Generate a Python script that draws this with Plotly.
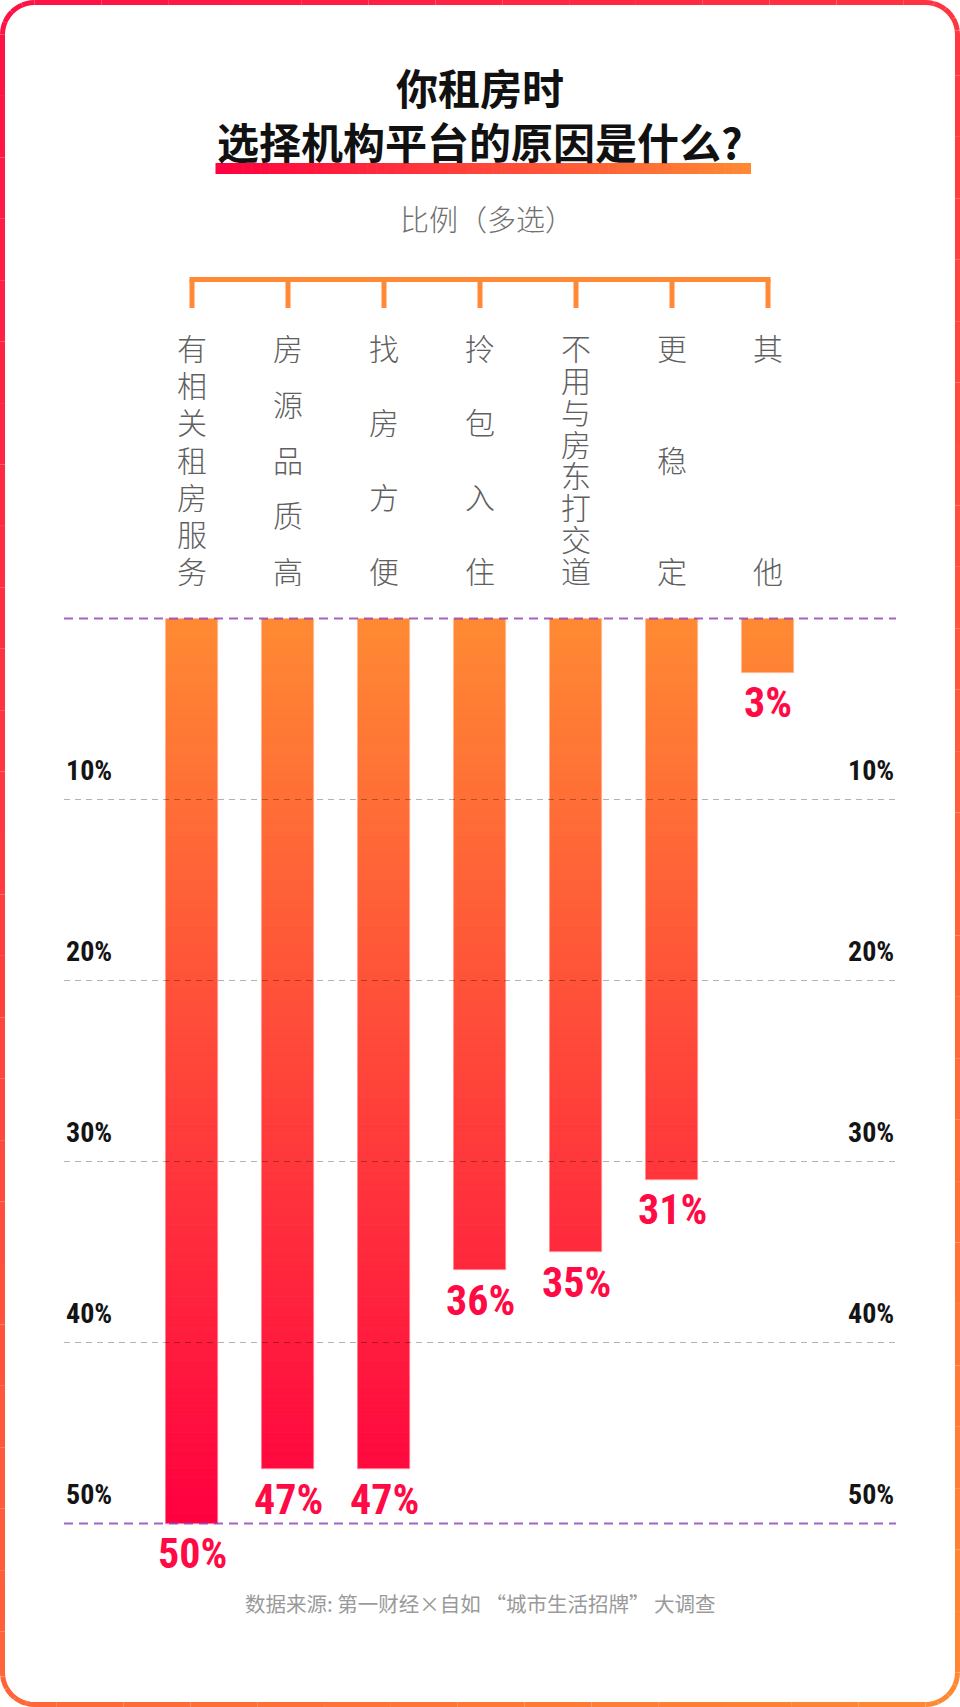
import math
import plotly.graph_objects as go

# ---------------- data ----------------
categories = ["有相关租房服务", "房源品质高", "找房方便", "拎包入住", "不用与房东打交道", "更稳定", "其他"]
values = [50, 47, 47, 36, 35, 31, 3]
value_labels = ["50%", "47%", "47%", "36%", "35%", "31%", "3%"]
tick_values = [10, 20, 30, 40]
tick_labels = ["10%", "20%", "30%", "40%"]
frame_values = [0, 50]
frame_labels = ["", "50%"]
title_line1 = "你租房时"
title_line2 = "选择机构平台的原因是什么?"
subtitle = "比例（多选）"
source = "数据来源: 第一财经×自如 “城市生活招牌” 大调查"

# ---------------- geometry / style ----------------
W, H = 960, 1707
PX_TOP = 618.5          # pixel of 0 %
PX_PER = 18.1           # pixels per 1 %
Y_TOP_VAL = -PX_TOP / PX_PER
Y_BOT_VAL = (H - PX_TOP) / PX_PER
ORANGE = (255, 138, 51)
RED = (255, 0, 64)
CJK = "Noto Sans CJK SC"
NUM = "Roboto Condensed, Noto Sans Condensed, DejaVu Sans Condensed, Liberation Sans Narrow, sans-serif"


def lerp(c1, c2, t):
    t = max(0.0, min(1.0, t))
    return "rgb(%d,%d,%d)" % tuple(round(a + (b - a) * t) for a, b in zip(c1, c2))


def px(x):
    return x / W


def py(y):
    return 1 - y / H


fig = go.Figure()

# gradient bars built from stacked slices
step = 0.5
xs, bases, hs, cols = [], [], [], []
for c, v in zip(categories, values):
    n = math.ceil(v / step - 1e-9)
    for k in range(n):
        b = k * step
        h = min(step, v - b)
        xs.append(c)
        bases.append(b)
        hs.append(h)
        cols.append(lerp(ORANGE, RED, (b + h / 2) / 50))
fig.add_trace(go.Bar(x=xs, y=hs, base=bases, width=0.55,
                     marker=dict(color=cols, line=dict(color=cols, width=0.8)),
                     hoverinfo="skip", showlegend=False))
# light outline of each bar
fig.add_trace(go.Bar(x=categories, y=values, width=0.55,
                     marker=dict(color="rgba(0,0,0,0)",
                                 line=dict(color="rgba(255,255,255,0.35)", width=1)),
                     hoverinfo="skip", showlegend=False))

shapes = []
annotations = []

# gridlines (above bars)
for tv in tick_values:
    shapes.append(dict(type="line", xref="paper", yref="y", x0=px(64), x1=px(896),
                       y0=tv, y1=tv, layer="above",
                       line=dict(color="rgba(0,0,0,0.3)", width=1.2, dash="6px,5px")))
for fv in frame_values:
    shapes.append(dict(type="line", xref="paper", yref="y", x0=px(64), x1=px(896),
                       y0=fv, y1=fv, layer="above",
                       line=dict(color="rgba(140,60,180,0.8)", width=2, dash="9px,6px")))

# axis labels left and right
for tv, tl in list(zip(tick_values, tick_labels)) + [(frame_values[1], frame_labels[1])]:
    for xx, anc in ((px(64), "left"), (px(896), "right")):
        annotations.append(dict(x=xx, y=tv, xref="paper", yref="y", text=tl,
                                showarrow=False, xanchor=anc, yanchor="middle", yshift=29,
                                font=dict(family=NUM, size=28, color="#141414", weight="bold")))

# value labels
for c, v, t in zip(categories, values, value_labels):
    annotations.append(dict(x=c, y=v, xref="x", yref="y", text=t, showarrow=False,
                            xanchor="center", yanchor="middle", yshift=-30,
                            font=dict(family=NUM, size=42, color="#FF0A45", weight="bold")))

# vertical category labels (one character per line, justified between two rows)
LBL_TOP, LBL_BOT, LBL_SIZE = 347, 570, 30
for i, c in enumerate(categories):
    n = len(c)
    spacing = (LBL_BOT - LBL_TOP) / (n - 1)
    base_size = spacing / 1.3
    txt = "<br>".join("<span style='font-size:%dpx'>%s</span>" % (LBL_SIZE, ch) for ch in c)
    annotations.append(dict(x=i, y=py((LBL_TOP + LBL_BOT) / 2), xref="x", yref="paper",
                            text=txt, showarrow=False, xanchor="center", yanchor="middle",
                            font=dict(family=CJK, size=base_size, color="#606060", weight=300)))

# bracket
bl = 5
shapes.append(dict(type="line", xref="x", yref="paper", x0=-2.5 / 96, x1=6 + 2.5 / 96,
                   y0=py(279.5), y1=py(279.5), line=dict(color="rgb(255,138,51)", width=bl)))
for i in range(len(categories)):
    shapes.append(dict(type="line", xref="x", yref="paper", x0=i, x1=i,
                       y0=py(279.5), y1=py(308), line=dict(color="rgb(255,138,51)", width=bl)))

# titles
annotations.append(dict(x=0.5, y=py(87), xref="paper", yref="paper", text=title_line1,
                        showarrow=False, xanchor="center", yanchor="middle",
                        font=dict(family=CJK, size=42, color="#111111", weight="bold")))
annotations.append(dict(x=0.5, y=py(141), xref="paper", yref="paper", text=title_line2,
                        showarrow=False, xanchor="center", yanchor="middle",
                        font=dict(family=CJK, size=42, color="#111111", weight="bold")))
annotations.append(dict(x=0.5, y=py(218), xref="paper", yref="paper", text=subtitle,
                        showarrow=False, xanchor="center", yanchor="middle", xshift=7,
                        font=dict(family=CJK, size=29, color="#707070", weight=300)))
annotations.append(dict(x=0.5, y=py(1603), xref="paper", yref="paper", text=source,
                        showarrow=False, xanchor="center", yanchor="middle",
                        font=dict(family=CJK, size=20.5, color="#9a9a9a")))

# gradient underline under title
ux0, ux1, uy0, uy1 = 215.5, 751, 163, 174
nseg = 60
for k in range(nseg):
    a = ux0 + (ux1 - ux0) * k / nseg
    b = ux0 + (ux1 - ux0) * (k + 1) / nseg + 0.6
    shapes.append(dict(type="rect", xref="paper", yref="paper", x0=px(a), x1=px(min(b, ux1)),
                       y0=py(uy1), y1=py(uy0), line=dict(width=0),
                       fillcolor=lerp(RED, ORANGE, (k + 0.5) / nseg)))

# gradient rounded frame
bx0, bx1, by0, by1, r = 2.5, 957.5, 2.5, 1704.5, 32
pts = []


def seg(x0, y0, x1, y1, n):
    for k in range(n):
        pts.append((x0 + (x1 - x0) * k / n, y0 + (y1 - y0) * k / n))


def arc(cx, cy, a0, a1, n):
    for k in range(n):
        a = math.radians(a0 + (a1 - a0) * k / n)
        pts.append((cx + r * math.cos(a), cy + r * math.sin(a)))


seg(bx0 + r, by0, bx1 - r, by0, 40)
arc(bx1 - r, by0 + r, -90, 0, 12)
seg(bx1, by0 + r, bx1, by1 - r, 80)
arc(bx1 - r, by1 - r, 0, 90, 12)
seg(bx1 - r, by1, bx0 + r, by1, 40)
arc(bx0 + r, by1 - r, 90, 180, 12)
seg(bx0, by1 - r, bx0, by0 + r, 80)
arc(bx0 + r, by0 + r, 180, 270, 12)
pts.append(pts[0])

chunk = 3
for s in range(0, len(pts) - 1, chunk):
    part = pts[s:s + chunk + 1]
    mx = sum(p[0] for p in part) / len(part)
    my = sum(p[1] for p in part) / len(part)
    t = 0.3 * mx / W + 0.7 * my / H
    path = "M " + " L ".join("%.5f,%.5f" % (px(x), py(y)) for x, y in part)
    shapes.append(dict(type="path", xref="paper", yref="paper", path=path,
                       line=dict(color=lerp((255, 16, 70), ORANGE, t), width=5)))

fig.update_layout(
    width=W, height=H, margin=dict(l=0, r=0, t=0, b=0),
    paper_bgcolor="white", plot_bgcolor="rgba(0,0,0,0)",
    barmode="overlay", bargap=0,
    xaxis=dict(type="category", categoryorder="array", categoryarray=categories,
               range=[-2, 8], visible=False, fixedrange=True),
    yaxis=dict(range=[Y_BOT_VAL, Y_TOP_VAL], visible=False, fixedrange=True),
    shapes=shapes, annotations=annotations, showlegend=False,
)

fig.write_html("out.html", config={"displayModeBar": False},
               post_script="document.body.style.margin='0px';document.documentElement.style.overflow='hidden';")
